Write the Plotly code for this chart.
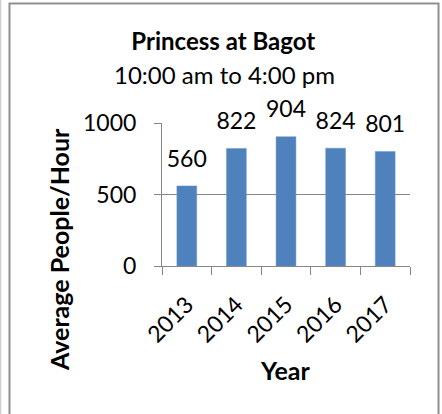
# plot.py
# Moyenne de pietons par heure - Princess at Bagot

import plotly.graph_objects as go

# Donnees
years = ["2013", "2014", "2015", "2016", "2017"]
people_per_hour = [560, 822, 904, 824, 801]
y_ticks = [0, 500, 1000]

title_text = "Princess at Bagot"
subtitle_text = "10:00 am to 4:00 pm"
x_title = "Year"
y_title = "Average People/Hour"

FONT = "Lato, Calibri, sans-serif"
GREY = "#868686"

fig = go.Figure()

fig.add_trace(go.Bar(
    x=years,
    y=people_per_hour,
    width=0.4,
    marker=dict(color="#4F81BD", line=dict(color="#6f97c8", width=0.5)),
    hoverinfo="x+y",
))

# Etiquettes de donnees au-dessus des barres
fig.add_trace(go.Scatter(
    x=years,
    y=people_per_hour,
    mode="markers+text",
    text=[str(v) for v in people_per_hour],
    textposition="top center",
    marker=dict(size=20, color="rgba(0,0,0,0)"),
    textfont=dict(family=FONT, size=23, color="#000000"),
    hoverinfo="skip",
    cliponaxis=False,
))

# Sous-titre
fig.add_annotation(
    x=0.25, y=1.336, xref="paper", yref="paper", text=subtitle_text,
    xanchor="center", yanchor="middle",
    showarrow=False, font=dict(family=FONT, size=24, color="#000000"),
)

# Titres des axes
fig.add_annotation(
    x=-0.415, y=0.112, xref="paper", yref="paper", text=f"<b>{y_title}</b>",
    xanchor="center", yanchor="middle",
    textangle=-90, showarrow=False, font=dict(family=FONT, size=25, color="#000000"),
)
fig.add_annotation(
    x=0.496, y=-0.727, xref="paper", yref="paper", text=f"<b>{x_title}</b>",
    xanchor="center", yanchor="middle",
    showarrow=False, font=dict(family=FONT, size=25, color="#000000"),
)

# Cadre du graphique (zone de graphique Excel)
fig.add_shape(type="rect", xref="paper", yref="paper",
              x0=-0.615, x1=1.115, y0=-1.2, y1=1.836,
              line=dict(color="#8f8f8f", width=2), layer="below")
fig.add_shape(type="line", xref="paper", yref="paper",
              x0=-0.651, x1=-0.651, y0=-1.2, y1=2.0,
              line=dict(color="#cfcfcf", width=1.5), layer="below")

fig.update_layout(
    width=442,
    height=414,
    margin=dict(l=162, r=32, t=123, b=148, autoexpand=False),
    paper_bgcolor="white",
    plot_bgcolor="white",
    showlegend=False,
    title=dict(
        text=f"<b>{title_text}</b>",
        x=0.505, xanchor="center",
        y=1 - 42 / 414, yanchor="middle",
        font=dict(family=FONT, size=24, color="#000000"),
    ),
    font=dict(family=FONT, size=23, color="#000000"),
    xaxis=dict(
        type="category",
        range=[-0.5, len(years) - 0.5],
        tickangle=-45,
        tickson="boundaries",
        ticks="outside",
        ticklen=8,
        tickcolor=GREY,
        ticklabelstandoff=15,
        showline=True,
        linecolor=GREY,
        linewidth=1,
        showgrid=False,
        tickfont=dict(family=FONT, size=23, color="#000000"),
    ),
    yaxis=dict(
        range=[0, 1000],
        tickvals=y_ticks,
        ticks="outside",
        ticklen=7,
        tickcolor=GREY,
        ticklabelstandoff=13,
        showline=True,
        linecolor=GREY,
        linewidth=1,
        showgrid=True,
        gridcolor=GREY,
        gridwidth=1,
        zeroline=False,
        tickfont=dict(family=FONT, size=23, color="#000000"),
    ),
)

# pas de marge autour de la page pour caler le graphique a 0,0
fig.write_html(
    "out.html",
    config={"displayModeBar": False},
    post_script="document.body.style.margin='0';",
)
